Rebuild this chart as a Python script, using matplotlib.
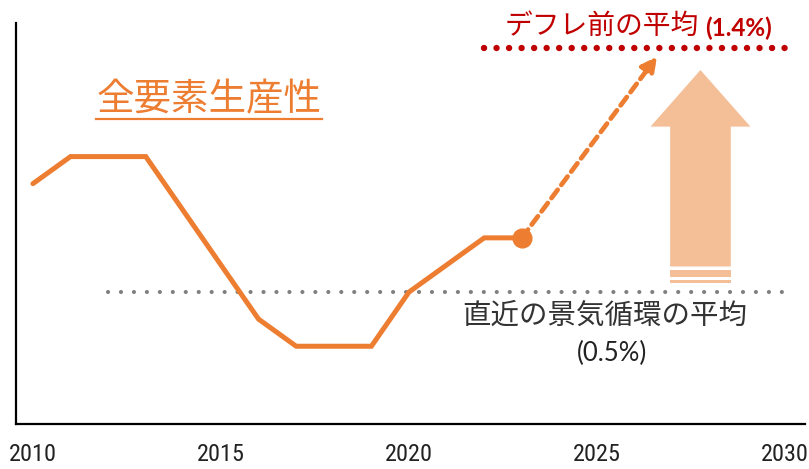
import matplotlib
matplotlib.use("Agg")
import matplotlib.pyplot as plt
from matplotlib.patches import Rectangle, Polygon

plt.rcParams['font.family'] = ['Noto Sans CJK JP', 'DejaVu Sans']

# Data
years = [2010, 2011, 2012, 2013, 2014, 2015, 2016, 2017, 2018, 2019, 2020, 2021, 2022, 2023]
tfp = [0.9, 1.0, 1.0, 1.0, 0.8, 0.6, 0.4, 0.3, 0.3, 0.3, 0.5, 0.6, 0.7, 0.7]
proj_x = [2023, 2026.6]
proj_y = [0.7, 1.37]
recent_avg = 0.5
recent_span = [2012, 2030]
pre_deflation_avg = 1.4
pre_span = [2022, 2030]
xticks = [2010, 2015, 2020, 2025, 2030]

W, H = 809, 469
fig = plt.figure(figsize=(W / 100, H / 100), dpi=100)
ax = fig.add_axes([16 / W, (H - 424) / H, 789 / W, 401 / H])
ax.set_xlim(2009.55, 2030.53)
ax.set_ylim(0.013, 1.493)

orange = '#ED7D31'
ax.plot(years, tfp, color=orange, lw=3.6, solid_joinstyle='miter', solid_capstyle='round', zorder=4)
ax.plot([years[-1]], [tfp[-1]], 'o', color=orange, ms=13.5, zorder=5)

# dashed projection with arrow head
ax.annotate('', xy=(proj_x[1], proj_y[1]), xytext=(proj_x[0], proj_y[0]),
            arrowprops=dict(arrowstyle='-|>,head_length=0.9,head_width=0.45', color=orange,
                            lw=3.4, linestyle=(0, (2.2, 1.3)), shrinkA=0, shrinkB=0), zorder=5)

# average lines
ax.plot(recent_span, [recent_avg] * 2, color='#808080', lw=3, linestyle=(0, (0.01, 3.1)),
        dash_capstyle='round', zorder=2)
ax.plot(pre_span, [pre_deflation_avg] * 2, color='#C00000', lw=4.6, linestyle=(0, (0.01, 1.95)),
        dash_capstyle='round', zorder=2)

# big up arrow (light orange)
ac = '#F4BE96'
cx = 2027.75
sw = 0.82
hw = 1.36
yb = 0.5 + (292 - 267) / 271.1
yhb = 0.5 + (292 - 127) / 271.1
ytip = 0.5 + (292 - 69) / 271.1
arrow_poly = [(cx - sw, yb), (cx - sw, yhb), (cx - hw, yhb), (cx, ytip),
              (cx + hw, yhb), (cx + sw, yhb), (cx + sw, yb)]
ax.add_patch(Polygon(arrow_poly, closed=True, facecolor=ac, edgecolor='white', lw=0.8, zorder=3))
for top_px, bot_px in [(270, 277), (280, 283)]:
    y0 = 0.5 + (292 - bot_px) / 271.1
    y1 = 0.5 + (292 - top_px) / 271.1
    ax.add_patch(Rectangle((cx - sw, y0), 2 * sw, y1 - y0, facecolor=ac, edgecolor='none', zorder=3))

# spines
for s in ['top', 'right']:
    ax.spines[s].set_visible(False)
ax.spines['left'].set_linewidth(1.6)
ax.spines['bottom'].set_linewidth(1.6)
ax.set_yticks([])
ax.set_xticks(xticks)
ax.set_xticklabels([str(x) for x in xticks], color='#222222', fontsize=17.5, fontweight='normal',
                   family=['Roboto Condensed', 'Liberation Sans Narrow', 'Noto Sans CJK JP'])
ax.tick_params(axis='x', length=0, pad=14)

# texts
fig.text(97 / W, 1 - 100 / H, '全要素生産性', color=orange, fontsize=27, style='italic',
         va='center', ha='left')
fig.add_artist(plt.Line2D([96 / W, 322 / W], [1 - 119 / H] * 2, color=orange, lw=1.6))

fig.text(505 / W, 1 - 26 / H, 'デフレ前の平均', color='#C00000', fontsize=20, va='center', ha='left')
fig.text(705 / W, 1 - 28 / H, '(1.4%)', color='#C00000', fontsize=17.5, fontweight='bold',
         va='center', ha='left', family=['Lato', 'DejaVu Sans'])

fig.text(605 / W, 1 - 316 / H, '直近の景気循環の平均', color='#333333', fontsize=20.5, va='center', ha='center')
fig.text(612 / W, 1 - 353 / H, '(0.5%)', color='#222222', fontsize=18.5, va='center', ha='center',
         family=['Lato', 'DejaVu Sans'])

fig.savefig('out.png', dpi=100)
